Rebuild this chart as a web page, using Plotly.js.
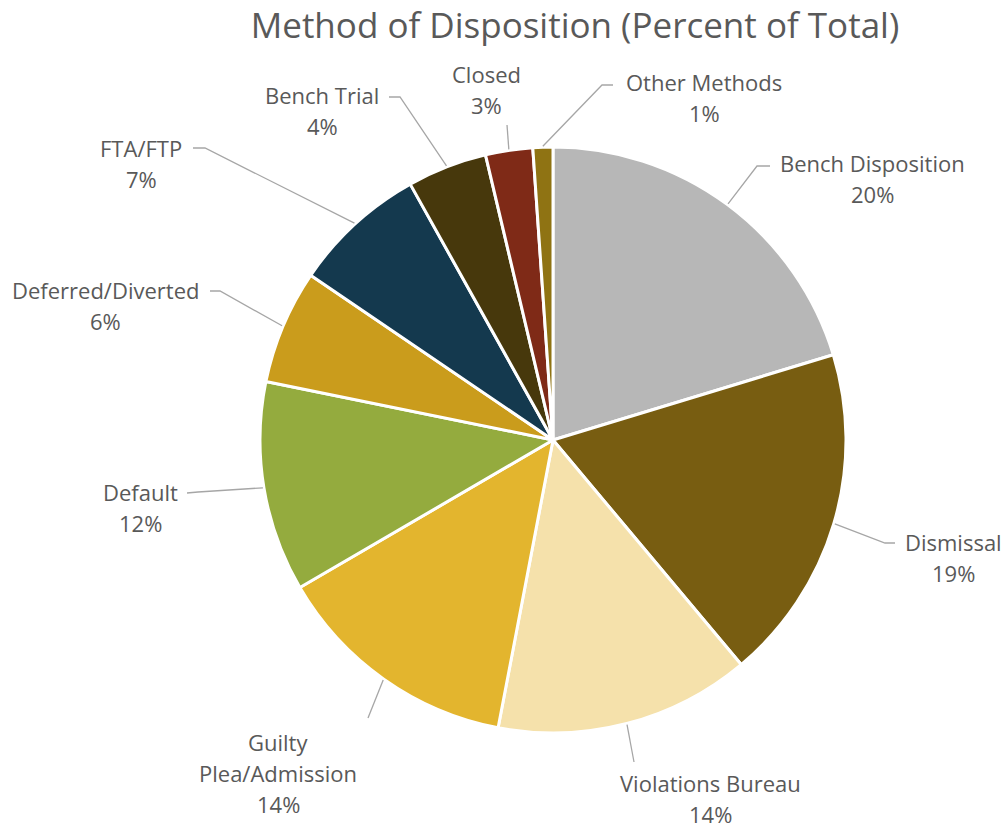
<!DOCTYPE html>
<html>
<head>
<meta charset="utf-8">
<script src="https://cdn.plot.ly/plotly-3.0.1.min.js"></script>
<style>html,body{margin:0;padding:0;background:#fff;}#chart{width:1006px;height:829px;}</style>
</head>
<body>
<div id="chart"></div>
<script>
// ---- data ----
const categories = ["Bench Disposition", "Dismissal", "Violations Bureau", "Guilty Plea/Admission", "Default", "Deferred/Diverted", "FTA/FTP", "Bench Trial", "Closed", "Other Methods"];
const labelLines = [["Bench Disposition"], ["Dismissal"], ["Violations Bureau"], ["Guilty", "Plea/Admission"], ["Default"], ["Deferred/Diverted"], ["FTA/FTP"], ["Bench Trial"], ["Closed"], ["Other Methods"]];
const percentValues = [20.3, 18.6, 14.1, 13.6, 11.6, 6.3, 7.4, 4.4, 2.6, 1.1];
const sliceColors = ["#B7B7B7", "#785D11", "#F5E1AB", "#E3B52E", "#94AB3E", "#CA9C1C", "#14394E", "#47380C", "#7F2A17", "#8F7313"];

// ---- layout config (pixels) ----
const W = 1006, H = 829;
const CX = 553, CY = 440, R = 293;
const labelCfg = [
  {cx: 872, y: 163, elbow: [757, 166], end: [770, 166]},
  {cx: 953, y: 542, elbow: [885, 543], end: [895, 543]},
  {cx: 710, y: 783, elbow: [634, 762], end: [634, 762]},
  {cx: 278, y: 742, elbow: [368, 718], end: [368, 718]},
  {cx: 140, y: 492, elbow: [198, 492], end: [187, 493]},
  {cx: 105, y: 290, elbow: [220, 291], end: [210, 291]},
  {cx: 141, y: 148, elbow: [205, 148], end: [193, 148]},
  {cx: 322, y: 95,  elbow: [400, 97],  end: [389, 97]},
  {cx: 486, y: 74,  elbow: [507, 125], end: [507, 125]},
  {cx: 704, y: 82,  elbow: [602, 85],  end: [613, 85]}
];
const LINE_GAP = 31;
const textColor = "#595959";
const fontFam = "'Open Sans', 'Noto Sans', sans-serif";

const px = x => x / W;
const py = y => 1 - y / H;

const total = percentValues.reduce((a, b) => a + b, 0);
const pctText = percentValues.map(v => Math.round(v / total * 100) + "%");

const annotations = [];
const shapes = [];
let cum = 0;
percentValues.forEach((v, i) => {
  const mid = (cum + v / 2) / total * 2 * Math.PI;
  cum += v;
  const sx = CX + (R + 1) * Math.sin(mid);
  const sy = CY - (R + 1) * Math.cos(mid);
  const c = labelCfg[i];
  shapes.push({
    type: "path", xref: "paper", yref: "paper",
    path: `M ${px(sx)},${py(sy)} L ${px(c.elbow[0])},${py(c.elbow[1])} L ${px(c.end[0])},${py(c.end[1])}`,
    line: {color: "#A6A6A6", width: 1.3}
  });
  const lines = labelLines[i].concat([pctText[i]]);
  lines.forEach((t, k) => {
    annotations.push({
      xref: "paper", yref: "paper",
      x: px(c.cx), y: py(c.y + k * LINE_GAP),
      xanchor: "center", yanchor: "middle",
      text: t, showarrow: false, borderpad: 0,
      font: {family: fontFam, size: 22, color: textColor}
    });
  });
});

const trace = {
  type: "pie",
  values: percentValues,
  labels: categories,
  sort: false,
  direction: "clockwise",
  rotation: 0,
  textinfo: "none",
  hoverinfo: "none",
  marker: {colors: sliceColors, line: {color: "#FFFFFF", width: 3}},
  domain: {x: [px(CX - R), px(CX + R)], y: [py(CY + R), py(CY - R)]},
  showlegend: false
};

const layout = {
  width: W, height: H,
  margin: {l: 0, r: 0, t: 0, b: 0},
  paper_bgcolor: "#FFFFFF",
  title: {text: "Method of Disposition (Percent of Total)", x: 575 / W, xanchor: "center", y: 1 - 26 / H, yanchor: "middle",
          font: {family: fontFam, size: 35, color: textColor}},
  annotations: annotations,
  shapes: shapes,
  showlegend: false
};

Plotly.newPlot("chart", [trace], layout, {displayModeBar: false, staticPlot: true});
</script>
</body>
</html>
